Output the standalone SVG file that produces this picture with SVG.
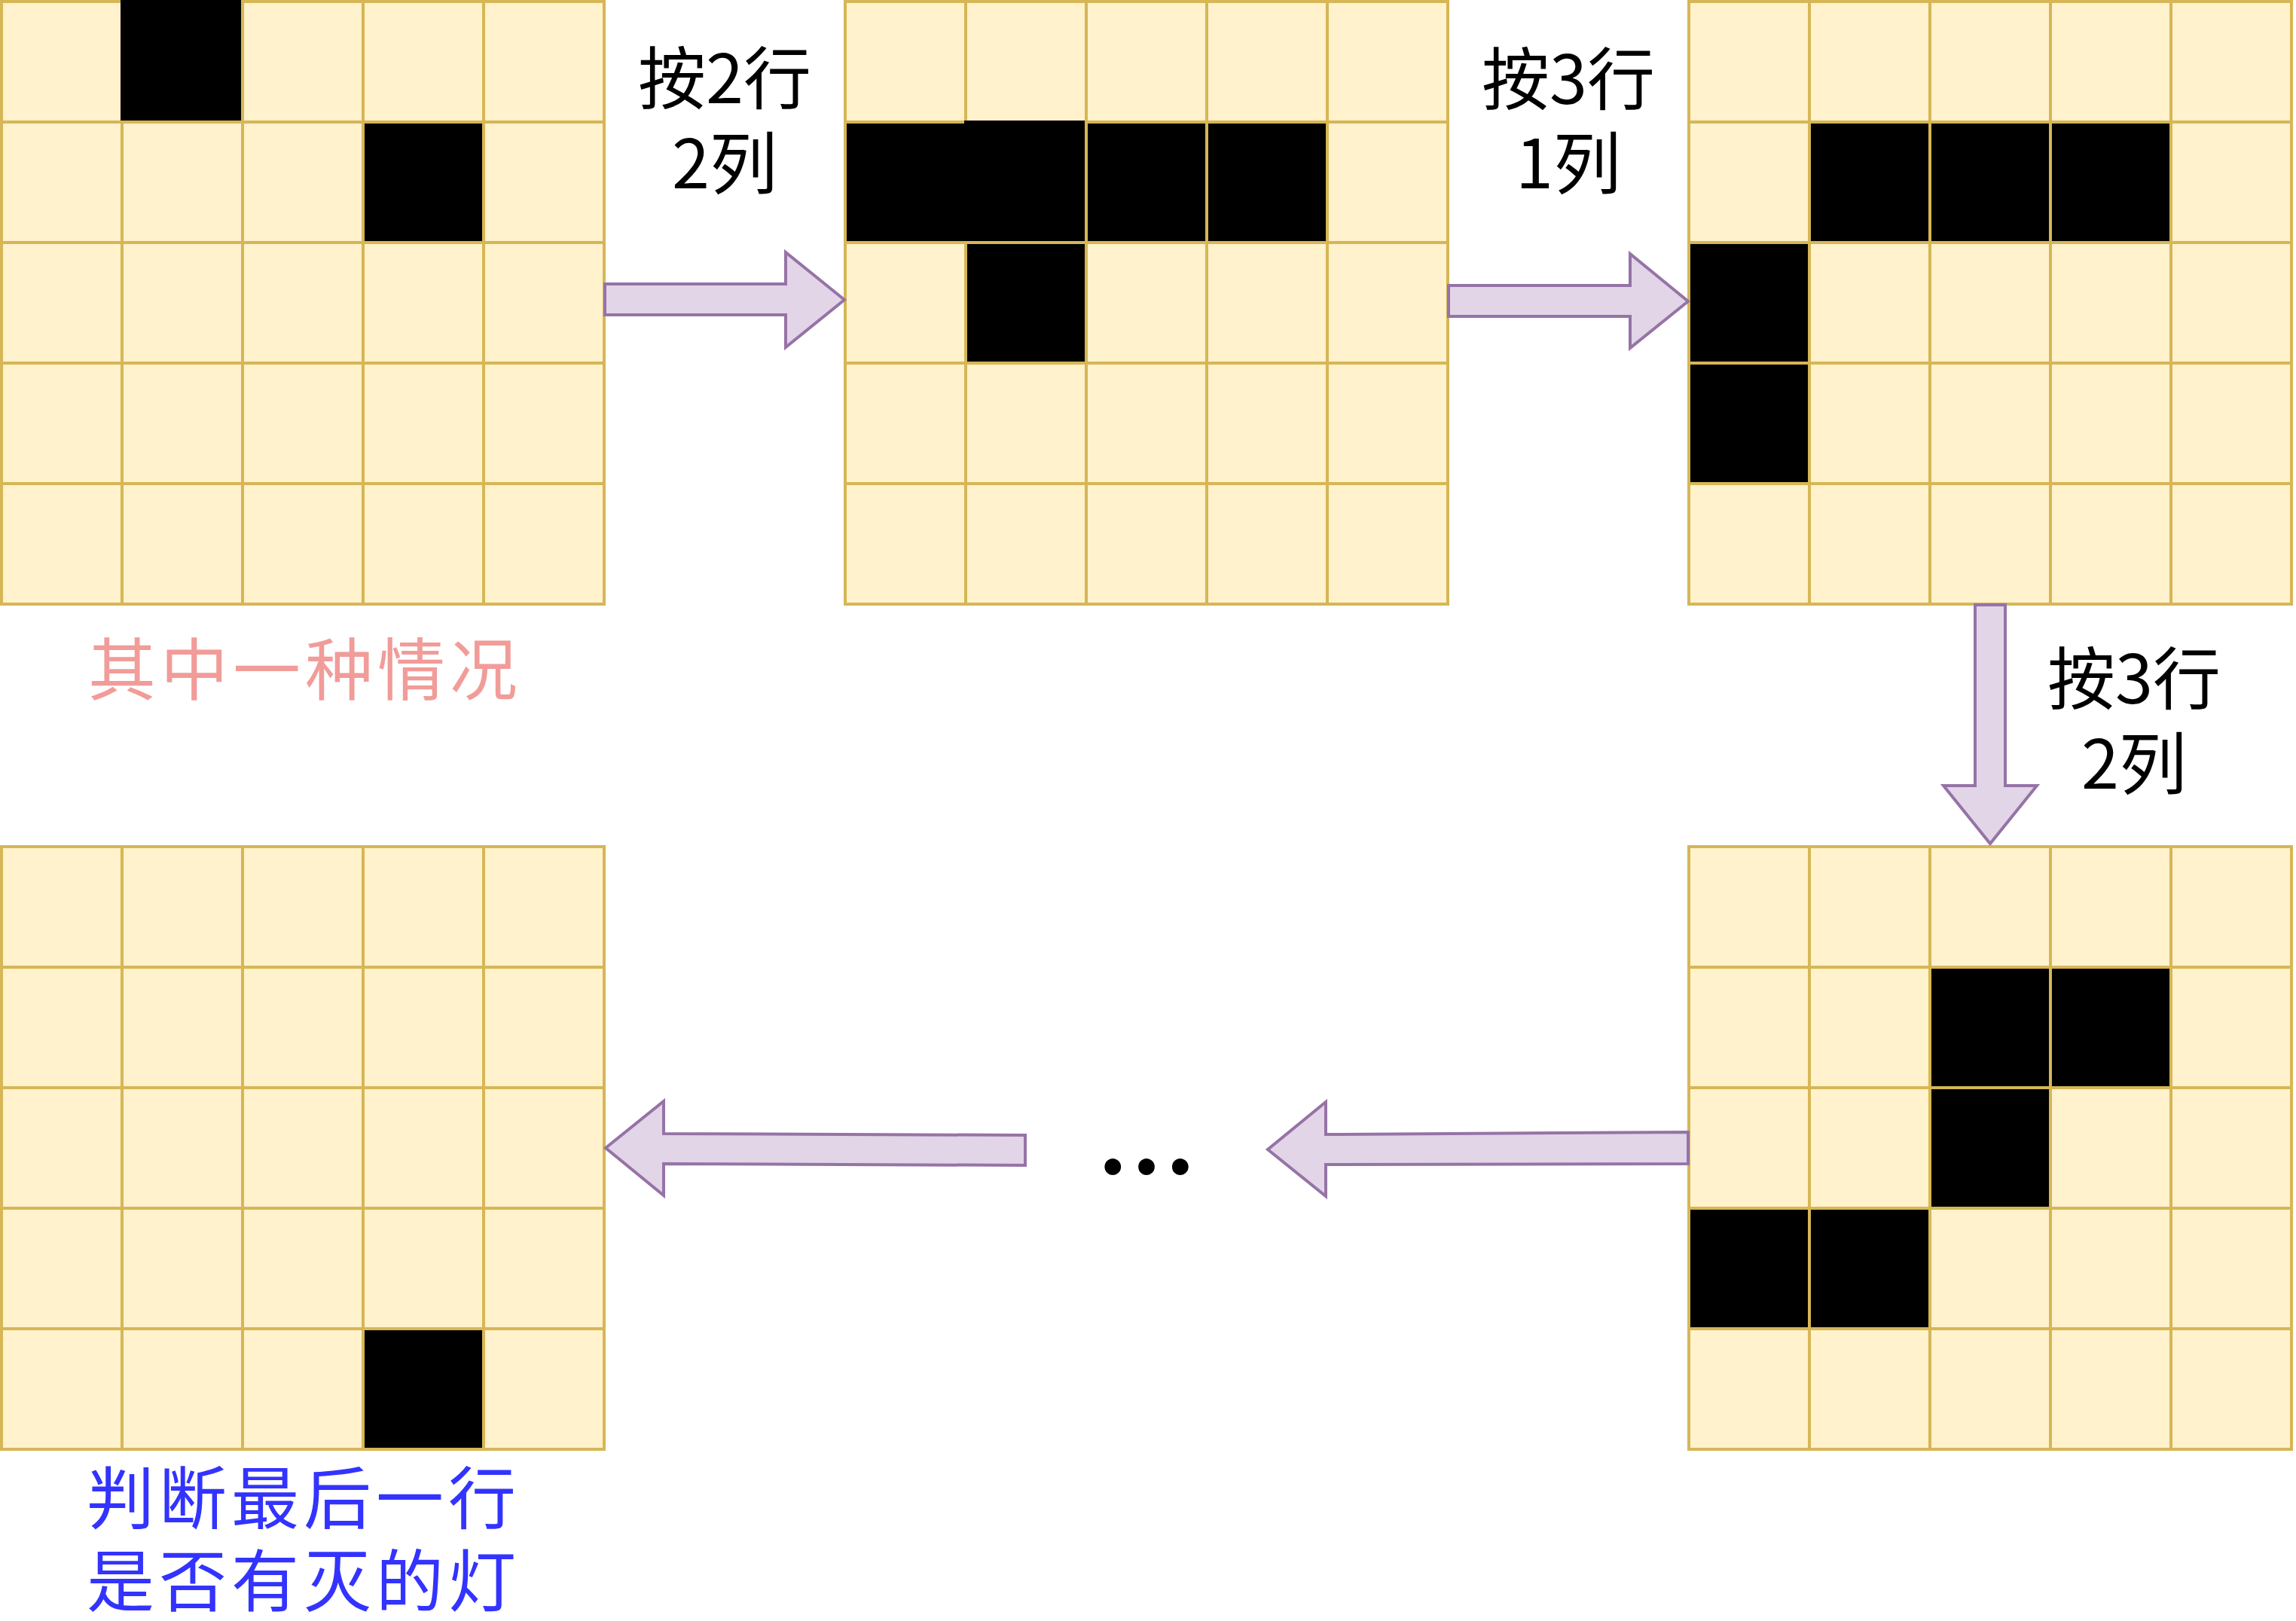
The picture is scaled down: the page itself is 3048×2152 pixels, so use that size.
<svg xmlns="http://www.w3.org/2000/svg" xmlns:xlink="http://www.w3.org/1999/xlink" width="3048" height="2152" viewBox="0 0 3048 2152">
<style>
.bg{fill:#fff2cc;stroke:#d6b656;stroke-width:4}
.ln{fill:none;stroke:#d6b656;stroke-width:4}
.k{fill:#000000}
.arr{fill:#e1d5e7;stroke:#9673a6;stroke-width:4;stroke-linejoin:miter}
.lbl{font-family:"Noto Sans CJK SC","Noto Sans",sans-serif;font-size:90px;fill:#000000;text-anchor:middle}
.pink{font-family:"Noto Sans CJK SC",sans-serif;font-size:90px;fill:#f19c99;text-anchor:middle;letter-spacing:6px}
.blue{font-family:"Noto Sans CJK SC",sans-serif;font-size:90px;fill:#3333ff;text-anchor:middle;letter-spacing:6px}
.dots{font-family:Lato,"Liberation Sans",sans-serif;font-size:174px;fill:#000000;text-anchor:middle}
</style>
<defs>
<g id="gridbase">
<rect class="bg" x="0" y="0" width="800" height="800"/>
<path class="ln" d="M0 160H800M0 320H800M0 480H800M0 640H800M160 0V800M320 0V800M480 0V800M640 0V800"/>
</g>
</defs>
<rect x="0" y="0" width="3048" height="2152" fill="#ffffff"/>

<g id="grid1" transform="translate(2,2)">
<use xlink:href="#gridbase"/>
<rect class="k" x="158" y="-2" width="160" height="160"/>
<rect class="k" x="482" y="162" width="156" height="156"/>
</g>

<g id="grid2" transform="translate(1122,2)">
<use xlink:href="#gridbase"/>
<rect class="k" x="2" y="162" width="156" height="156"/>
<rect class="k" x="158" y="158" width="160" height="160"/>
<rect class="k" x="322" y="162" width="156" height="156"/>
<rect class="k" x="482" y="162" width="156" height="156"/>
<rect class="k" x="162" y="322" width="156" height="156"/>
</g>

<g id="grid3" transform="translate(2242,2)">
<use xlink:href="#gridbase"/>
<rect class="k" x="162" y="162" width="156" height="156"/>
<rect class="k" x="322" y="162" width="156" height="156"/>
<rect class="k" x="482" y="162" width="156" height="156"/>
<rect class="k" x="2" y="322" width="156" height="156"/>
<rect class="k" x="2" y="482" width="156" height="156"/>
</g>

<g id="grid4" transform="translate(2242,1124)">
<use xlink:href="#gridbase"/>
<rect class="k" x="322" y="162" width="156" height="156"/>
<rect class="k" x="482" y="162" width="156" height="156"/>
<rect class="k" x="322" y="322" width="156" height="156"/>
<rect class="k" x="2" y="482" width="156" height="156"/>
<rect class="k" x="162" y="482" width="156" height="156"/>
</g>

<g id="grid5" transform="translate(2,1124)">
<use xlink:href="#gridbase"/>
<rect class="k" x="482" y="642" width="156" height="156"/>
</g>

<g id="connectors">
<polygon class="arr" points="803,377 1043,377 1043,335 1121,398 1043,461 1043,418 803,418"/>
<polygon class="arr" points="1923,379 2164,379 2164,337 2241,400 2164,462 2164,420 1923,420"/>
<polygon class="arr" points="2622,803 2662,803 2662,1043 2704,1043 2642,1120 2580,1043 2622,1043"/>
<polygon class="arr" points="2241,1503 1760,1506 1760,1463 1683,1526 1760,1588 1760,1546 2241,1545"/>
<polygon class="arr" points="1361,1507 881,1505 881,1462 804,1524 881,1587 881,1545 1361,1547"/>
</g>

<g id="label1">
<text class="lbl" x="962" y="137">按2行<tspan x="962" dy="113">2列</tspan></text>
</g>
<g id="label2">
<text class="lbl" x="2082" y="138">按3行<tspan x="2082" dy="112">1列</tspan></text>
</g>
<g id="label3">
<text class="lbl" x="2833" y="934">按3行<tspan x="2833" dy="113">2列</tspan></text>
</g>

<g id="caption1">
<text class="pink" x="405" y="922">其中一种情况</text>
</g>
<g id="caption2">
<text class="blue" x="403" y="2022">判断最后一行<tspan x="403" dy="110">是否有灭的灯</tspan></text>
</g>

<g id="ellipsis">
<text class="dots" x="1522" y="1559">…</text>
</g>
</svg>
